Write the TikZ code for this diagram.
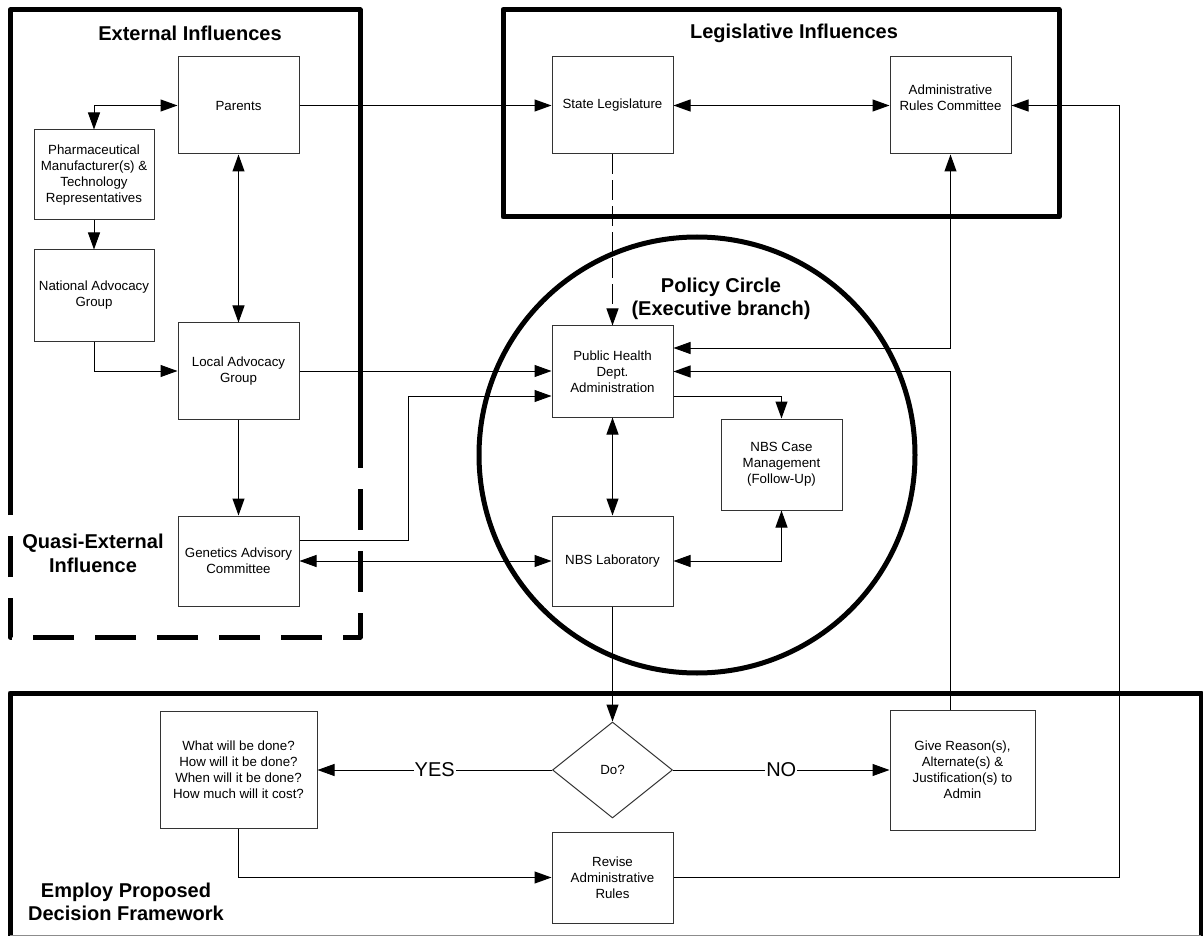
\documentclass[tikz,border=0pt]{standalone}
\usepackage{fontspec}
\setmainfont{Liberation Sans}
\usetikzlibrary{arrows.meta,shapes.geometric}
\tikzset{
 box/.style={draw=black!80, line width=1pt, fill=white, inner sep=0pt, align=center,
   font=\fontsize{13.3}{16}\selectfont, minimum width=121pt, minimum height=91pt},
 arr/.style={line width=1pt, -{Triangle[length=17pt,width=12pt]}},
 dbl/.style={line width=1pt, {Triangle[length=17pt,width=12pt]}-{Triangle[length=17pt,width=12pt]}},
 frame/.style={line width=5pt, line join=round},
 title/.style={font=\fontsize{20}{24}\selectfont\bfseries, align=center, inner sep=0pt},
 titleb/.style={font=\fontsize{20}{23}\selectfont\bfseries, align=center, inner sep=0pt},
 yn/.style={font=\fontsize{20}{24}\selectfont, fill=white, inner sep=1pt},
}
\begin{document}
\begin{tikzpicture}[x=1pt,y=-1pt]
\useasboundingbox (0,0) rectangle (1203,936);
% frames
\draw[frame] (10,468) -- (10,10) -- (360,10) -- (360,468);
\draw[frame] (10,468) -- (10,508);
\draw[frame, dash pattern=on 41pt off 21pt, dash phase=41pt] (360,468) -- (360,637) -- (10,637) -- (10,508);
\draw[frame] (503,9.5) rectangle (1059,217);
\draw[frame] (10,936) -- (10,693) -- (1201,693) -- (1201,936);
\draw[black!45, line width=1pt] (10,935) -- (1201,935);
% policy circle
\node[circle, draw, line width=5pt, minimum size=436pt, inner sep=0pt] (pc) at (697,455) {};
% titles
\node[title] (t1) at (190,33) {External Influences};
\node[title] (t2) at (794,33) {Legislative Influences};
\node[titleb] (t3) at (721,298.5) {Policy Circle\\(Executive branch)};
\node[title] (t4) at (93,553) {Quasi-External\\Influence};
\node[titleb] (t5) at (126,901.5) {Employ Proposed\\Decision Framework};
% boxes
\node[box, minimum height=97pt] (parents) at (238.5,105.5) {Parents};
\node[box, minimum width=120pt, minimum height=90pt] (pharma) at (94,175) {Pharmaceutical\\Manufacturer(s) \&\\Technology\\Representatives};
\node[box, minimum width=120pt] (national) at (94,295.5) {National Advocacy\\Group};
\node[box, minimum height=96pt] (local) at (238.5,371) {Local Advocacy\\Group};
\node[box, minimum height=90pt] (genetics) at (238.5,561) {Genetics Advisory\\Committee};
\node[box, minimum height=97pt] (statel) at (612.5,105.5) {State Legislature};
\node[box, minimum height=97pt] (admin) at (950.5,105.5) {Administrative\\Rules Committee\\\mbox{}};
\node[box] (ph) at (612.5,371.5) {Public Health\\Dept.\\Administration};
\node[box] (case) at (781.5,464.5) {NBS Case\\Management\\(Follow-Up)};
\node[box, minimum height=90pt] (lab) at (612.5,561) {NBS Laboratory};
\node[box, minimum width=157pt, minimum height=117pt] (q) at (238.5,770) {What will be done?\\How will it be done?\\When will it be done?\\How much will it cost?};
\node[box, minimum width=145pt, minimum height=120pt] (give) at (962.5,770) {Give Reason(s),\\Alternate(s) \&\\Justification(s) to\\Admin};
\node[box] (revise) at (612.5,877.5) {Revise\\Administrative\\Rules};
\node[box, diamond, minimum width=120pt, minimum height=96pt] (do) at (612.5,770) {Do?};
% helper coordinates
\coordinate (gk) at (408,540);
\coordinate (rc) at (1119,877.5);
% connectors
\draw[dbl] (pharma.north) |- (parents.west);
\draw[arr] (pharma) -- (national);
\draw[arr] (national.south) |- (local.west);
\draw[dbl] (parents) -- (local);
\draw[arr] (local) -- (genetics);
\draw[arr] (parents) -- (statel);
\draw[dbl] (statel) -- (admin);
\draw[arr, dash pattern=on 20pt off 6pt] (statel) -- (ph);
\draw[dbl] ([yshift=23.5pt]ph.east) -| (admin.south);
\draw[arr] (give.north -| admin.south) |- (ph.east);
\draw[arr] (local.east) -- (local.east -| ph.west);
\draw[arr] ([yshift=21pt]genetics.east) -- (gk) |- ([yshift=-24.5pt]ph.west);
\draw[arr] ([yshift=-24.5pt]ph.east) -| (case.north);
\draw[dbl] (ph) -- (lab);
\draw[dbl] (lab.east) -| (case.south);
\draw[dbl] (genetics) -- (lab);
\draw[arr] (lab) -- (do);
\draw[arr] (do.west) -- node[yn] (yes) {YES} (q.east);
\draw[arr] (do.east) -- node[yn] (no) {NO} (give.west);
\draw[arr] (q.south) |- (revise.west);
\draw[arr] (revise.east) -- (rc) |- (admin.east);
\end{tikzpicture}
\end{document}
